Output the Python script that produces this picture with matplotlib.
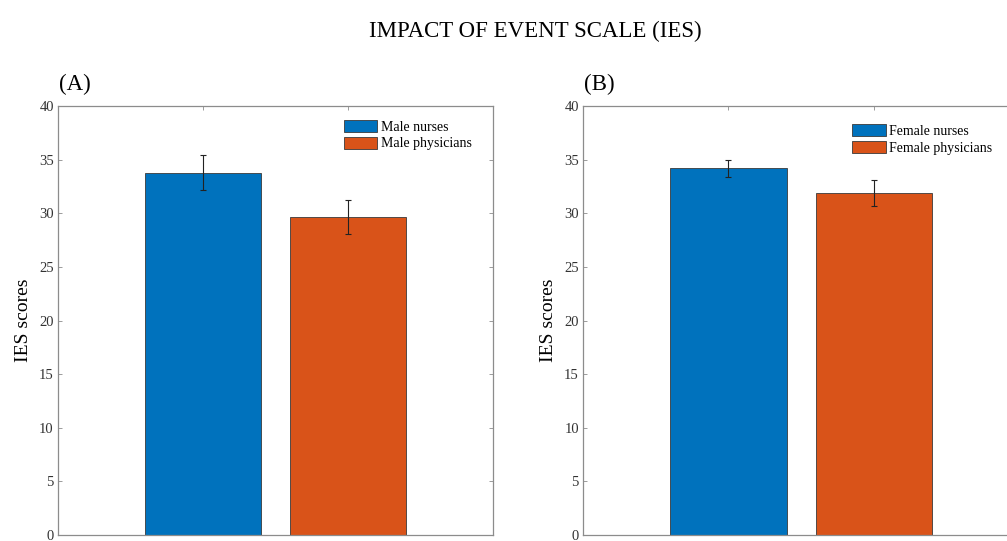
import matplotlib
matplotlib.use("Agg")
import matplotlib.pyplot as plt

plt.rcParams["font.family"] = ["Liberation Serif", "DejaVu Serif"]

# IES mean scores and error bars per group
groups = [1, 2]
male_labels = ["Male nurses", "Male physicians"]
male_means = [33.8, 29.65]
male_err = [1.65, 1.6]
female_labels = ["Female nurses", "Female physicians"]
female_means = [34.2, 31.9]
female_err = [0.8, 1.2]
yticks = [0, 5, 10, 15, 20, 25, 30, 35, 40]

colors = ["#0072BD", "#D95319"]
edge = "#3a3a3a"
spine_col = "#8c8c8c"

fig = plt.figure(figsize=(10.07, 5.41), dpi=100)
fig.text(0.532, 0.942, "IMPACT OF EVENT SCALE (IES)", ha="center", va="center",
         fontsize=16.5)

panels = [
    ([0.0576, 0.0110, 0.432, 0.793], "(A)", male_labels, male_means, male_err, (0.635, 0.99)),
    ([0.579, 0.0110, 0.433, 0.793], "(B)", female_labels, female_means, female_err, (0.595, 0.98)),
]

for rect, tag, labels, means, errs, leg_pos in panels:
    ax = fig.add_axes(rect)
    for x, m, e, c, lab in zip(groups, means, errs, colors, labels):
        ax.bar(x, m, 0.8, color=c, edgecolor=edge, linewidth=0.6, label=lab, zorder=2)
        ax.errorbar(x, m, yerr=e, fmt="none", ecolor="#222222", elinewidth=0.8,
                    capsize=2, capthick=0.8, zorder=3)
    ax.set_xlim(0, 3)
    ax.set_ylim(0, 40)
    ax.set_yticks(yticks)
    ax.set_xticks(groups)
    ax.set_xticklabels([])
    ax.tick_params(direction="in", top=True, right=True, length=3, width=0.6,
                   color=spine_col, labelsize=10.5, labelcolor="#333333", pad=3)
    for s in ax.spines.values():
        s.set_color(spine_col)
        s.set_linewidth(0.9)
    ax.set_ylabel("IES scores", fontsize=14, labelpad=5)
    ax.text(0.003, 1.05, tag, transform=ax.transAxes, fontsize=16.5, va="center")
    ax.legend(loc="upper left", bbox_to_anchor=leg_pos, frameon=False, fontsize=10,
              handlelength=2.4, handleheight=0.95, handletextpad=0.25,
              labelspacing=0.2, borderpad=0.2)

fig.savefig("out.png", dpi=100)
